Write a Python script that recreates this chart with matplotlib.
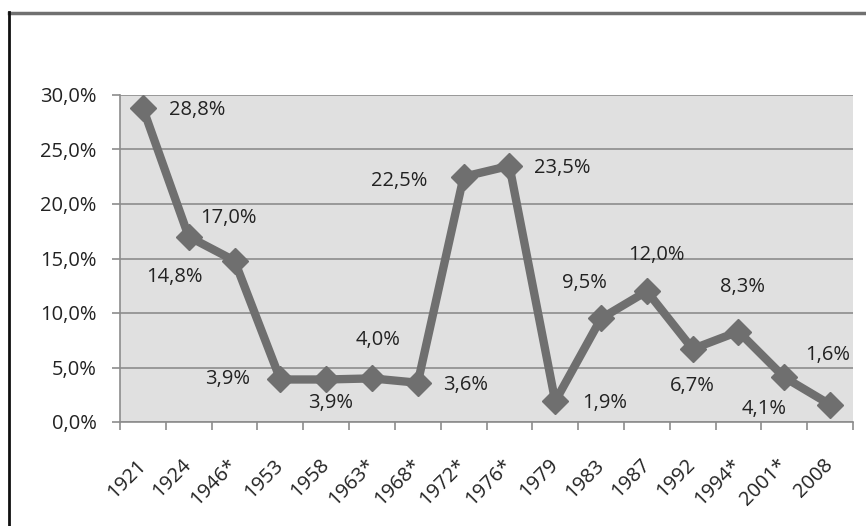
import matplotlib
matplotlib.use("Agg")
import matplotlib.pyplot as plt
from matplotlib.lines import Line2D

years = ["1921", "1924", "1946*", "1953", "1958", "1963*", "1968*", "1972*",
         "1976*", "1979", "1983", "1987", "1992", "1994*", "2001*", "2008"]
values = [28.8, 17.0, 14.8, 3.9, 3.9, 4.0, 3.6, 22.5,
          23.5, 1.9, 9.5, 12.0, 6.7, 8.3, 4.1, 1.6]
yticks = [0, 5, 10, 15, 20, 25, 30]

# label offsets in pixels (dx, dy) relative to each point (dy positive = up)
label_offsets = [(54, -2), (40, 19), (-60, -16), (-53, 0), (4, -24), (6, 38),
                 (48, -2), (-64, -4), (53, -2), (49, -2), (-17, 35), (10, 36),
                 (0, -37), (4, 45), (-20, -32), (-2, 50)]

plt.rcParams['font.family'] = ['Open Sans', 'DejaVu Sans']
FS = 14.5

fig = plt.figure(figsize=(8.66, 5.26), dpi=100)
W, H = 866, 526
ax = fig.add_axes([120 / W, 1 - 422 / H, (853 - 120) / W, (422 - 95) / H])
ax.set_facecolor('#e0e0e0')

x = list(range(len(years)))
ax.plot(x, values, color='#6f6f6f', lw=6, marker='D', markersize=13,
        markerfacecolor='#6f6f6f', markeredgecolor='#6f6f6f', zorder=3,
        solid_joinstyle='miter')

def fmt(v):
    return f"{v:.1f}".replace('.', ',') + '%'

for xi, v, (dx, dy) in zip(x, values, label_offsets):
    ax.annotate(fmt(v), (xi, v), xytext=(dx, dy), textcoords='offset pixels',
                ha='center', va='center', fontsize=FS, color='#222222', zorder=4)

ax.set_xlim(-0.5, len(years) - 0.5)
ax.set_ylim(0, 30)
ax.set_yticks(yticks)
ax.set_yticklabels([f"{t:.1f}".replace('.', ',') + '%' for t in yticks],
                   fontsize=FS, color='#222222')
ax.yaxis.grid(True, color='#8c8c8c', lw=1.2)
ax.set_axisbelow(True)

ax.set_xticks(x)
ax.set_xticklabels(years, rotation=45, ha='right', va='center',
                   rotation_mode='anchor', fontsize=FS, color='#222222')
ax.set_xticks([i - 0.5 for i in range(len(years) + 1)], minor=True)
ax.tick_params(axis='x', which='major', length=0, pad=29)
ax.tick_params(axis='x', which='minor', length=6, width=1.2, color='#8c8c8c', direction='out')
ax.tick_params(axis='y', length=6, width=1.2, color='#8c8c8c', pad=11, direction='out')

for s in ['top', 'right']:
    ax.spines[s].set_visible(False)
for s in ['left', 'bottom']:
    ax.spines[s].set_color('#8c8c8c')
    ax.spines[s].set_linewidth(1.2)

# outer chart border (top and left visible)
fig.add_artist(Line2D([9 / W, 1.0], [1 - 13 / H, 1 - 13 / H], color='#707070', lw=2.5,
                      transform=fig.transFigure))
fig.add_artist(Line2D([9 / W, 9 / W], [0, 1 - 12 / H], color='#111111', lw=2,
                      transform=fig.transFigure))

fig.savefig('out.png', dpi=100)
